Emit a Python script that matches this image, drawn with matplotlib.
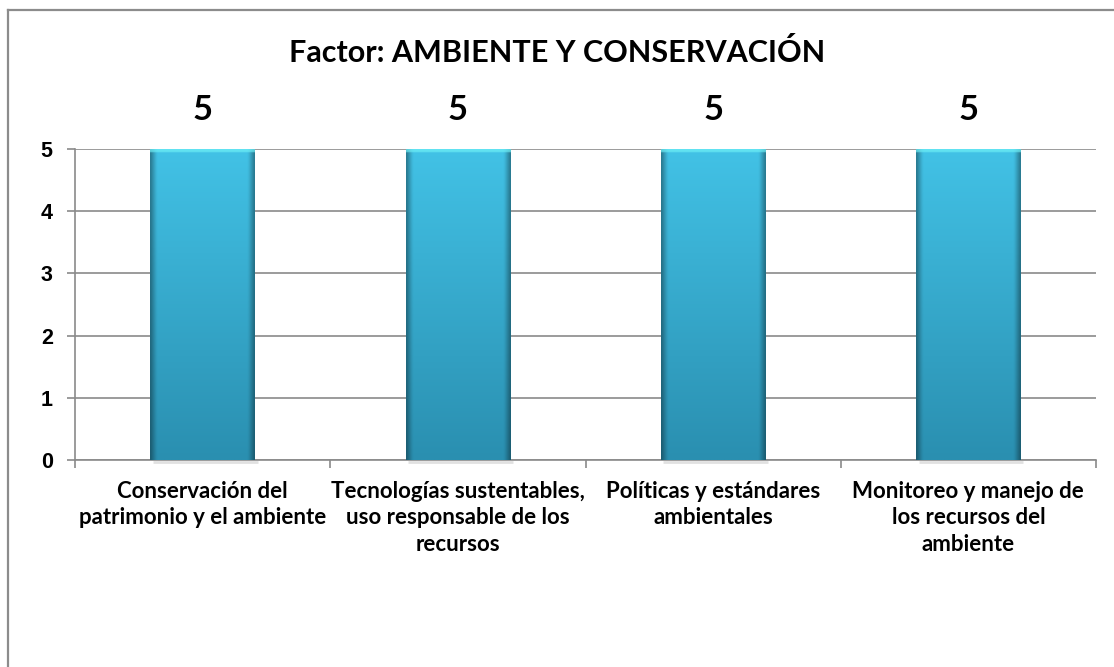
import numpy as np
import matplotlib
matplotlib.use("Agg")
import matplotlib.pyplot as plt
from matplotlib.lines import Line2D
from matplotlib.colors import to_rgb

TITLE = "Factor: AMBIENTE Y CONSERVACIÓN"
CATEGORIES = [
    "Conservación del\npatrimonio y el ambiente",
    "Tecnologías sustentables,\nuso responsable de los\nrecursos",
    "Políticas y estándares\nambientales",
    "Monitoreo y manejo de\nlos recursos del\nambiente",
]
VALUES = [5, 5, 5, 5]
YTICKS = [0, 1, 2, 3, 4, 5]

LABEL_FONT = "Lato"
TICK_FONT = "Liberation Sans"
GRID_COLOR = "#8a8a8a"


def bar_gradient(h=200, w=60):
    """vertical teal gradient with darker side edges and a cyan top rim"""
    top, bot = np.array(to_rgb("#42c2e6")), np.array(to_rgb("#2a8fb0"))
    t = np.linspace(0, 1, h)[:, None, None]
    img = top * (1 - t) + bot * t
    img = np.repeat(img, w, axis=1)
    x = np.linspace(-1, 1, w)
    shade = 1 - 0.35 * np.clip((np.abs(x) - 0.88) / 0.12, 0, 1)
    img = img * shade[None, :, None]
    rim = max(2, h // 70)
    img[:rim] = img[:rim] * 0.3 + np.array(to_rgb("#6ff0f6")) * 0.7
    return np.clip(img, 0, 1)


fig = plt.figure(figsize=(11.14, 6.67), dpi=100)
ax = fig.add_axes([75 / 1114, 1 - 460 / 667, (1096 - 75) / 1114, (460 - 149) / 667])

x = np.arange(len(CATEGORIES))
bars = ax.bar(x, VALUES, width=0.41, color="none", edgecolor="none", zorder=3)
grad = bar_gradient()
for b in bars:
    im = ax.imshow(grad, extent=(b.get_x(), b.get_x() + b.get_width(), 0, b.get_height()),
                   aspect="auto", zorder=3, interpolation="bilinear")
    im.set_clip_path(b)
    # soft shadow along the bar's bottom edge
    ax.plot([b.get_x() + 0.01, b.get_x() + b.get_width() + 0.01], [-0.025, -0.025],
            color="#c4c4c4", lw=2, alpha=0.5, zorder=2, solid_capstyle="butt", clip_on=False)
    ax.annotate(f"{b.get_height():g}", (b.get_x() + b.get_width() / 2, b.get_height()),
                xytext=(0, 28), textcoords="offset points", ha="center", va="center",
                fontsize=25, fontweight="bold", family=LABEL_FONT, annotation_clip=False)

ax.set_xlim(-0.5, len(CATEGORIES) - 0.5)
ax.set_ylim(0, 5)
ax.set_yticks(YTICKS)
ax.set_yticklabels([str(v) for v in YTICKS], fontsize=15.5, fontweight="bold", family=TICK_FONT)
ax.set_xticks(x)
ax.set_xticklabels(CATEGORIES, fontsize=16, fontweight="bold", family=LABEL_FONT,
                   linespacing=1.32, va="top")
ax.set_xticks(np.arange(len(CATEGORIES) + 1) - 0.5, minor=True)
ax.tick_params(axis="x", which="major", length=0, pad=15)
ax.tick_params(axis="x", which="minor", length=6, color=GRID_COLOR, width=1.2)
ax.tick_params(axis="y", length=6, color=GRID_COLOR, width=1.2, pad=10)

ax.yaxis.grid(True, color=GRID_COLOR, linewidth=1.2, zorder=0)
ax.set_axisbelow(True)
for s in ("top", "right"):
    ax.spines[s].set_visible(False)
for s in ("left", "bottom"):
    ax.spines[s].set_color(GRID_COLOR)
    ax.spines[s].set_linewidth(1.2)

fig.text(0.5, 1 - 52 / 667, TITLE, ha="center", va="center",
         fontsize=22, fontweight="bold", family=LABEL_FONT)

# chart-area border (only top and left edges fall inside the crop)
bx, by = 8 / 1114, 1 - 10 / 667
fig.add_artist(Line2D([bx, bx], [0, by], transform=fig.transFigure, color="#8c8c8c", lw=1.6))
fig.add_artist(Line2D([bx, 1], [by, by], transform=fig.transFigure, color="#8c8c8c", lw=1.6))

fig.savefig("out.png", dpi=100)
